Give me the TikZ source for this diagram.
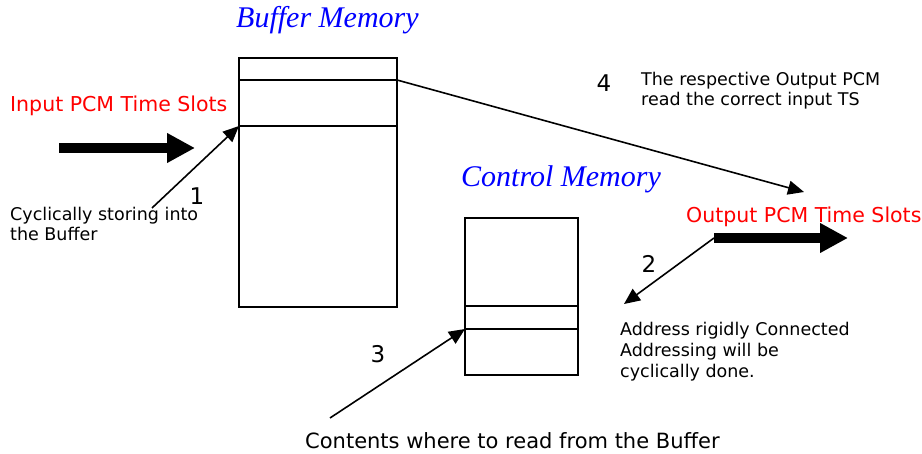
\documentclass[tikz,border=0pt]{standalone}
\usepackage{fontspec}
\setmainfont{DejaVu Sans}
\newfontfamily\memtitlefont{Liberation Serif}
\usetikzlibrary{arrows.meta,positioning}

\begin{document}
\begin{tikzpicture}[x=1pt, y=-1pt,
    membox/.style={rectangle, draw, line width=1.6pt, inner sep=0pt, outer sep=0pt},
    memtitle/.style={font=\memtitlefont\itshape\fontsize{30}{34}\selectfont, text=blue, anchor=base west, inner sep=0pt},
    pcmlabel/.style={font=\fontsize{20.5}{24}\selectfont, text=red, anchor=base west, inner sep=0pt},
    note/.style={font=\fontsize{17.5}{20}\selectfont, align=left, anchor=north west, inner sep=0pt},
    stepnum/.style={font=\fontsize{23}{26}\selectfont, anchor=base, inner sep=0pt},
    thin/.style={line width=1.6pt, -{Triangle[length=16pt,width=14pt]}},
    thick/.style={line width=10pt, -{Triangle[length=28pt,width=28pt]}}]
    \useasboundingbox (0,0) rectangle (922,454);
    \def\bufw{158pt}
    \def\ctlw{113pt}
    % buffer memory
    \node[membox, minimum width=\bufw, minimum height=22pt] (buftop) at (318,69) {};
    \node[membox, minimum width=\bufw, minimum height=46pt, below=0pt of buftop] (bufslot) {};
    \node[membox, minimum width=\bufw, minimum height=181pt, below=0pt of bufslot] (bufrest) {};
    \node[memtitle] (buftitle) at (236,28) {Buffer Memory};
    % control memory
    \node[membox, minimum width=\ctlw, minimum height=88pt] (ctltop) at (521.5,262) {};
    \node[membox, minimum width=\ctlw, minimum height=23pt, below=0pt of ctltop] (ctlslot) {};
    \node[membox, minimum width=\ctlw, minimum height=46pt, below=0pt of ctlslot] (ctlrest) {};
    \node[memtitle] (ctltitle) at (461,187) {Control Memory};

    % input and output time slots
    \node[pcmlabel] (inlabel) at (10,112) {Input PCM Time Slots};
    \coordinate (intail) at (59,148);
    \coordinate (inhead) at (195,148);
    \draw[thick] (intail) -- (inhead);
    \node[pcmlabel] (outlabel) at (686,223) {Output PCM Time Slots};
    \coordinate (outtail) at (714,238);
    \coordinate (outhead) at (848,238);
    \draw[thick] (outtail) -- (outhead);

    % notes
    \node[note] (storenote) at (10,207) {Cyclically storing into\\the Buffer};
    \node[note] (readnote) at (641,72) {The respective Output PCM\\read the correct input TS};
    \node[note, font=\fontsize{17.5}{21}\selectfont] (addrnote) at (620,322) {Address rigidly Connected\\Addressing will be\\cyclically done.};
    \node[note, font=\fontsize{21}{24}\selectfont, anchor=base west] (contnote) at (305,449) {Contents where to read from the Buffer};

    % steps
    \coordinate (storetail) at (152,208);
    \draw[thin] (storetail) -- (bufslot.south west);
    \node[stepnum] (one) at (197,205) {1};
    \coordinate (addrhead) at (624,304);
    \draw[thin] (outtail) -- (addrhead);
    \node[stepnum] (two) at (649,273) {2};
    \coordinate (conttail) at (330,418);
    \draw[thin] (conttail) -- (ctlslot.south west);
    \node[stepnum] (three) at (378,363) {3};
    \coordinate (readhead) at (804,192);
    \draw[thin] (bufslot.north east) -- (readhead);
    \node[stepnum] (four) at (604,92) {4};
\end{tikzpicture}
\end{document}
